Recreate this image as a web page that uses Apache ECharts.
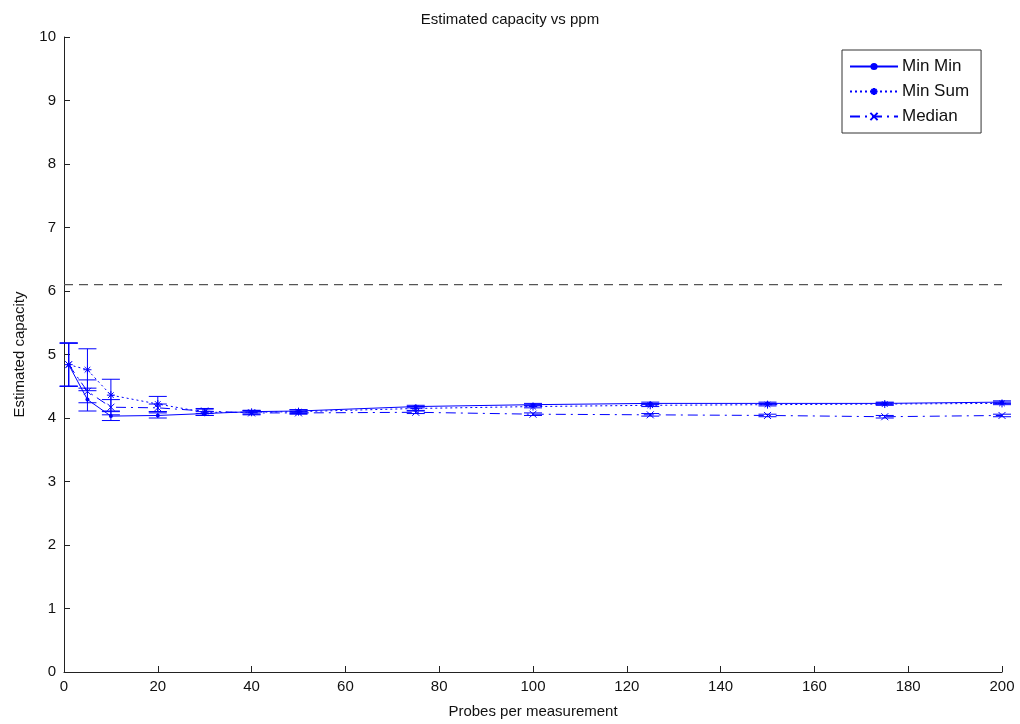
<!DOCTYPE html>
<html>
<head>
<meta charset="utf-8">
<script src="https://cdn.jsdelivr.net/npm/echarts@6/dist/echarts.min.js"></script>
<style>html,body{margin:0;padding:0;background:#fff;}#c{width:1020px;height:724px;}</style>
</head>
<body>
<div id="c"></div>
<script>
const probes = [1, 5, 10, 20, 30, 40, 50, 75, 100, 125, 150, 175, 200];
const minMin = [4.84, 4.29, 4.03, 4.04, 4.07, 4.10, 4.11, 4.18, 4.21, 4.23, 4.23, 4.23, 4.25];
const minMinErr = [0.34, 0.18, 0.07, 0.04, 0.03, 0.02, 0.02, 0.02, 0.02, 0.02, 0.02, 0.02, 0.02];
const minSum = [4.84, 4.76, 4.36, 4.22, 4.09, 4.09, 4.10, 4.15, 4.18, 4.20, 4.21, 4.22, 4.23];
const minSumErr = [0.34, 0.33, 0.25, 0.12, 0.05, 0.03, 0.03, 0.03, 0.02, 0.02, 0.02, 0.02, 0.02];
const median = [4.84, 4.42, 4.17, 4.16, 4.11, 4.08, 4.08, 4.09, 4.06, 4.05, 4.04, 4.02, 4.04];
const medianErr = [0.34, 0.18, 0.12, 0.06, 0.04, 0.03, 0.02, 0.02, 0.02, 0.02, 0.02, 0.02, 0.02];
const refX = [0, 200];
const refY = [6.1, 6.1];

const BLUE = '#0000ff';
const FONT = "'Liberation Sans', Arial, sans-serif";
const NARROW = "'Liberation Sans Narrow', 'Liberation Sans', Arial, sans-serif";

function pairs(xs, ys) { return xs.map((x, i) => [x, ys[i]]); }
function errData(xs, ys, es) { return xs.map((x, i) => [x, ys[i] - es[i], ys[i] + es[i]]); }

function errSeries(name, xs, ys, es) {
  return {
    type: 'custom',
    name: name + ' err',
    data: errData(xs, ys, es),
    encode: { x: 0, y: [1, 2] },
    z: 1,
    silent: true,
    renderItem: function (params, api) {
      const lo = api.coord([api.value(0), api.value(1)]);
      const hi = api.coord([api.value(0), api.value(2)]);
      const w = 9;
      const st = { stroke: BLUE, lineWidth: 1 };
      return {
        type: 'group',
        children: [
          { type: 'line', shape: { x1: lo[0], y1: lo[1], x2: hi[0], y2: hi[1] }, style: st },
          { type: 'line', shape: { x1: lo[0] - w, y1: lo[1], x2: lo[0] + w, y2: lo[1] }, style: st },
          { type: 'line', shape: { x1: hi[0] - w, y1: hi[1], x2: hi[0] + w, y2: hi[1] }, style: st }
        ]
      };
    }
  };
}

const chart = echarts.init(document.getElementById('c'), null, { renderer: 'canvas' });
chart.setOption({
  backgroundColor: '#ffffff',
  animation: false,
  title: {
    text: 'Estimated capacity vs ppm',
    left: 'center',
    top: 7,
    textStyle: { fontFamily: NARROW, fontSize: 15, fontWeight: 'normal', color: '#111' }
  },
  grid: { left: 64, right: 18, top: 37, bottom: 49, containLabel: false },
  legend: {
    data: ['Min Min', 'Min Sum', 'Median'],
    orient: 'vertical',
    left: 842,
    top: 50,
    padding: [8, 12, 8, 7],
    itemGap: 8,
    itemWidth: 48,
    itemHeight: 9,
    backgroundColor: '#fff',
    borderColor: '#333',
    borderWidth: 1,
    textStyle: { fontFamily: FONT, fontSize: 17, color: '#111', padding: [0, 0, 0, -1] }
  },
  xAxis: {
    type: 'value',
    min: 0, max: 200, interval: 20,
    name: 'Probes per measurement',
    nameLocation: 'middle',
    nameGap: 32,
    nameTextStyle: { fontFamily: FONT, fontSize: 15, color: '#111' },
    axisLine: { lineStyle: { color: '#222', width: 1 } },
    axisTick: { inside: true, length: 6, lineStyle: { color: '#222' } },
    axisLabel: { fontFamily: FONT, fontSize: 15, color: '#111', margin: 7 },
    splitLine: { show: false }
  },
  yAxis: {
    type: 'value',
    min: 0, max: 10, interval: 1,
    name: 'Estimated capacity',
    nameLocation: 'middle',
    nameGap: 37,
    nameTextStyle: { fontFamily: FONT, fontSize: 15, color: '#111' },
    axisLine: { show: true, lineStyle: { color: '#222', width: 1 } },
    axisTick: { show: true, inside: true, length: 6, lineStyle: { color: '#222' } },
    axisLabel: { fontFamily: FONT, fontSize: 15, color: '#111', margin: 8 },
    splitLine: { show: false }
  },
  series: [
    {
      type: 'line', name: 'ref', data: pairs(refX, refY), symbol: 'none', silent: true,
      lineStyle: { color: '#555', width: 1.2, type: [9, 6] }, z: 1
    },
    errSeries('Min Min', probes, minMin, minMinErr),
    errSeries('Min Sum', probes, minSum, minSumErr),
    errSeries('Median', probes, median, medianErr),
    {
      type: 'line', name: 'Min Min', data: pairs(probes, minMin),
      symbol: 'circle', symbolSize: 4, showAllSymbol: true,
      lineStyle: { color: BLUE, width: 1, type: 'solid' },
      itemStyle: { color: BLUE }, z: 3
    },
    {
      type: 'line', name: 'Min Sum', data: pairs(probes, minSum),
      symbol: 'path://M5,0L5,10M0,5L10,5M1.5,1.5L8.5,8.5M8.5,1.5L1.5,8.5', symbolSize: 8, showAllSymbol: true,
      lineStyle: { color: BLUE, width: 1, type: [2, 3] },
      itemStyle: { color: BLUE, borderColor: BLUE, borderWidth: 1 }, z: 3
    },
    {
      type: 'line', name: 'Median', data: pairs(probes, median),
      symbol: 'path://M0,0L10,10M10,0L0,10', symbolSize: 7, showAllSymbol: true,
      lineStyle: { color: BLUE, width: 1, type: [10, 5, 2, 5] },
      itemStyle: { color: BLUE, borderColor: BLUE, borderWidth: 1 }, z: 3
    }
  ]
});
</script>
</body>
</html>
